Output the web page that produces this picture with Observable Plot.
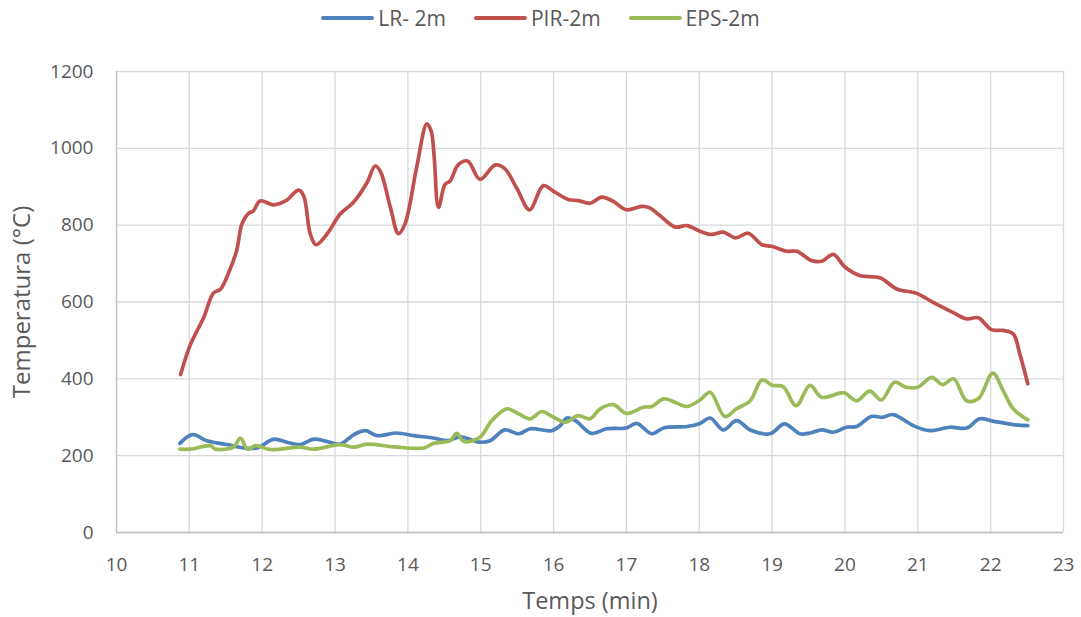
<!DOCTYPE html>
<html><head><meta charset="utf-8">
<script src="https://cdn.jsdelivr.net/npm/d3@7"></script>
<script src="https://cdn.jsdelivr.net/npm/@observablehq/plot@0.6"></script>
<style>
body{margin:0;background:#fff;font-family:"Open Sans",sans-serif;}
#legend{height:36px;display:flex;justify-content:center;align-items:center;gap:28px;font-size:21px;color:#595959;}
.item{display:flex;align-items:center;gap:4px}
.sw{width:53px;height:4px;border-radius:2px}
</style></head><body>
<div id="legend"></div>
<div id="chart"></div>
<script>
const seriesNames = ["LR- 2m", "PIR-2m", "EPS-2m"];
const seriesColors = ["#4f81bd", "#c0504d", "#9bbb59"];
const xTicks = [10,11,12,13,14,15,16,17,18,19,20,21,22,23];
const yTicks = [0,200,400,600,800,1000,1200];
const xTitle = "Temps (min)";
const yTitle = "Temperatura (°C)";

const timeLR = [10.87,11.04,11.24,11.52,11.75,11.93,12.16,12.34,12.52,12.71,12.89,13.07,13.26,13.42,13.58,13.85,14.08,14.35,14.54,14.72,14.99,15.13,15.33,15.52,15.68,15.97,16.09,16.18,16.30,16.52,16.73,17.00,17.14,17.35,17.51,17.83,18.01,18.15,18.33,18.51,18.70,18.97,19.17,19.38,19.52,19.68,19.84,20.02,20.16,20.36,20.52,20.66,20.94,21.16,21.44,21.67,21.85,22.03,22.31,22.51];
const tempLR = [232,255,239,229,220,220,243,235,229,243,237,230,255,265,252,259,252,246,239,249,235,239,267,257,270,265,278,298,291,258,270,272,284,257,272,276,284,298,267,291,267,257,283,257,259,267,261,274,276,302,300,307,278,265,274,272,296,290,281,278];

const timePIR = [10.88,11.01,11.20,11.33,11.43,11.56,11.65,11.72,11.81,11.88,11.97,12.16,12.32,12.50,12.57,12.66,12.74,12.89,13.07,13.25,13.44,13.55,13.62,13.76,13.87,13.96,14.12,14.26,14.32,14.36,14.42,14.51,14.58,14.69,14.82,14.99,15.20,15.33,15.50,15.67,15.86,16.00,16.20,16.34,16.50,16.66,16.82,17.00,17.21,17.32,17.46,17.67,17.83,18.01,18.17,18.33,18.50,18.67,18.86,18.99,19.20,19.34,19.54,19.68,19.84,20.00,20.20,20.48,20.71,20.98,21.21,21.48,21.67,21.83,22.01,22.17,22.31,22.40,22.51];
const tempPIR = [411,487,561,623,634,686,734,802,830,837,863,853,863,891,876,777,749,777,829,859,911,954,941,846,778,803,950,1064,1045,980,846,906,915,957,967,919,957,947,894,840,903,888,867,864,857,873,862,840,849,845,825,795,799,784,776,782,767,779,749,745,732,732,708,706,724,691,669,663,634,623,599,573,556,559,528,526,517,465,387];

const timeEPS = [10.87,11.01,11.29,11.36,11.61,11.70,11.80,11.91,12.11,12.52,12.71,13.07,13.26,13.44,13.81,14.22,14.35,14.58,14.67,14.77,14.99,15.15,15.36,15.52,15.68,15.84,16.00,16.16,16.34,16.50,16.64,16.82,17.00,17.23,17.35,17.51,17.69,17.83,18.01,18.15,18.35,18.51,18.70,18.86,19.01,19.15,19.33,19.52,19.68,19.93,20.00,20.16,20.34,20.50,20.68,20.84,21.00,21.19,21.34,21.49,21.67,21.83,22.03,22.17,22.31,22.51];
const tempEPS = [217,217,226,217,223,246,217,226,216,222,217,229,222,230,223,220,232,239,258,237,248,291,322,309,296,315,300,287,304,296,322,333,310,326,328,348,337,328,345,365,302,322,343,397,383,380,330,383,352,363,363,343,368,345,391,378,378,404,385,400,343,348,415,370,322,293];

const series = [[timeLR,tempLR],[timePIR,tempPIR],[timeEPS,tempEPS]];
const rows = series.flatMap(([ts,vs],i)=>ts.map((t,j)=>({series:seriesNames[i], t, v:vs[j]})));

const legend = document.getElementById("legend");
seriesNames.forEach((n,i)=>{
  const it=document.createElement("div"); it.className="item";
  const sw=document.createElement("div"); sw.className="sw"; sw.style.background=seriesColors[i];
  const tx=document.createElement("span"); tx.textContent=n;
  it.appendChild(sw); it.appendChild(tx); legend.appendChild(it);
});

const chart = Plot.plot({
  width:1081, height:581,
  marginTop:35, marginBottom:85, marginLeft:116, marginRight:18,
  style:{fontFamily:"Open Sans, sans-serif", fontSize:"19px", color:"#595959", background:"#fff"},
  x:{domain:[xTicks[0], xTicks[xTicks.length-1]]},
  y:{domain:[yTicks[0], yTicks[yTicks.length-1]]},
  color:{domain:seriesNames, range:seriesColors},
  marks:[
    Plot.gridX(xTicks,{stroke:"#d9d9d9", strokeOpacity:1, strokeWidth:1.3}),
    Plot.gridY(yTicks,{stroke:"#d9d9d9", strokeOpacity:1, strokeWidth:1.3}),
    Plot.ruleX([xTicks[0]],{stroke:"#bfbfbf", strokeWidth:1.3}),
    Plot.ruleY([yTicks[0]],{stroke:"#bfbfbf", strokeWidth:1.3}),
    Plot.line(rows,{x:"t", y:"v", z:"series", stroke:"series", curve:"catmull-rom", strokeWidth:3.7, strokeLinejoin:"round", strokeLinecap:"round"}),
    Plot.axisX(xTicks,{tickSize:0, tickPadding:25, fontSize:19, tickFormat:d=>String(d), label:null}),
    Plot.axisY(yTicks,{tickSize:0, tickPadding:23, fontSize:19, tickFormat:d=>String(d), label:null}),
    Plot.text([xTitle],{text:d=>d, frameAnchor:"bottom", lineAnchor:"middle", textAnchor:"middle", dy:69, fontSize:23.5, fill:"#595959"}),
    Plot.text([yTitle],{text:d=>d, frameAnchor:"left", lineAnchor:"middle", textAnchor:"middle", dx:-94, rotate:-90, fontSize:24, fill:"#595959"})
  ]
});
document.getElementById("chart").appendChild(chart);
</script>
</body></html>
